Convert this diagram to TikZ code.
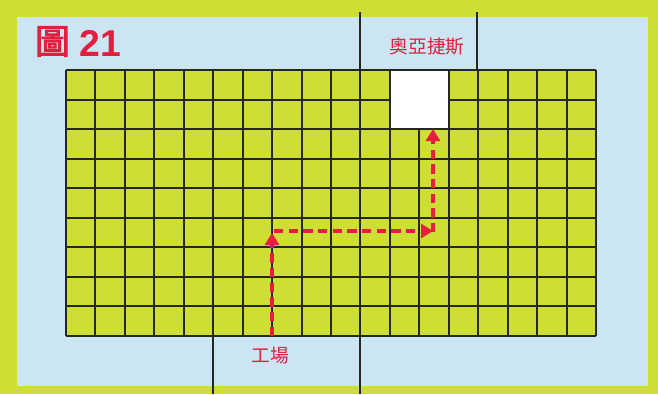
\documentclass[tikz,border=0pt]{standalone}
\usepackage{fontspec}
\newfontfamily\cjk{Noto Sans CJK TC}
\newfontfamily\cjkheavy{Noto Sans CJK TC}[FakeBold=3]
\newfontfamily\numfont{Liberation Sans}
\usetikzlibrary{arrows.meta}

\definecolor{limegreen}{RGB}{206,222,52}
\definecolor{paleblue}{RGB}{204,229,242}
\definecolor{markred}{RGB}{228,30,60}

\tikzset{every picture/.style={line width=0.75pt}}

\begin{document}
\begin{tikzpicture}[x=0.75pt,y=0.75pt,yscale=-1,xscale=1,
  gridline/.style={draw=black!85,line width=1.5pt},
  borderline/.style={draw=black!85,line width=1.2pt},
  routeline/.style={draw=markred,line width=3.3pt,dash pattern=on 7pt off 4pt,-{Triangle[length=9pt,width=10.5pt]}},
  labeltext/.style={inner sep=0.75pt,text=markred,font=\cjk\fontsize{14pt}{16pt}\selectfont}]
\useasboundingbox (0,0) rectangle (658,394);

%Shape: Rectangle
\fill[limegreen] (0,0) rectangle (658,394);
%Shape: Rectangle
\fill[paleblue] (17,17) rectangle (648,386);

% Straight Lines
\draw[borderline] (360,12) -- (360,70);
\draw[borderline] (477,12) -- (477,70);
\draw[borderline] (213,336) -- (213,394);
\draw[borderline] (360,336) -- (360,394);

%Shape: Grid
\fill[limegreen] (66,70) rectangle (596,336);
\foreach \i in {0,...,18}
  \draw[gridline] ({66+\i*530/18},70) -- ({66+\i*530/18},336);
\foreach \j in {0,...,9}
  \draw[gridline] (66,{70+\j*266/9}) -- (596,{70+\j*266/9});

%Shape: Rectangle
\filldraw[fill=white,gridline] ({66+11*530/18},70) rectangle ({66+13*530/18},{70+2*266/9});

% Route
\coordinate (factory) at (272,336);
\coordinate (turnup) at (272,233);
\coordinate (turnstart) at (274,231);
\coordinate (turnright) at (433,231);
\coordinate (target) at (433,129);
\draw[routeline] (factory) -- (turnup);
\draw[routeline] (turnstart) -- (turnright);
\draw[routeline] ([yshift=1pt]turnright) -- (target);

% Text Node
\node[inner sep=0pt,text=markred,font=\cjkheavy\fontsize{26pt}{28pt}\selectfont] (figmark) at (52.5,41.5) {圖};
% Text Node
\node[inner sep=0pt,text=markred,font=\numfont\bfseries\fontsize{28pt}{30pt}\selectfont,anchor=west] (fignum) at (79,43.5) {21};
% Text Node
\node[labeltext] (ayas) at (427,47) {奧亞捷斯};
% Text Node
\node[labeltext] (works) at (270,356) {工場};

\end{tikzpicture}
\end{document}
